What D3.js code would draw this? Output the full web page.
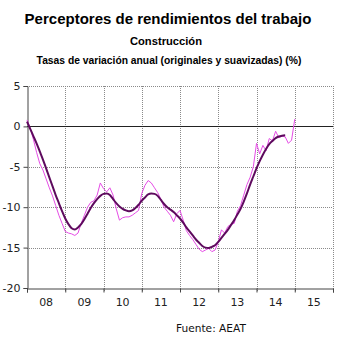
<!DOCTYPE html>
<html>
<head>
<meta charset="utf-8">
<script src="https://cdn.jsdelivr.net/npm/d3@7/dist/d3.min.js"></script>
<style>
  html, body { margin: 0; padding: 0; background: #fff; }
  svg { display: block; }
</style>
</head>
<body>
<svg id="chart" width="350" height="340"></svg>
<script>
// Monthly series starting January 2008 (index 0)
const yearLabels = ["08", "09", "10", "11", "12", "13", "14", "15"];
const yTicks = [5, 0, -5, -10, -15, -20];

// Original annual rates (%)
const originales = [
  0.8, -0.2, -1.6, -3.2, -4.6, -5.4, -6.5, -7.6, -8.6, -9.8, -11.0, -12.0,
  -13.0, -13.2, -13.3, -13.5, -13.2, -12.0, -11.0, -10.0, -9.4, -9.2, -8.5, -7.0,
  -7.7, -8.1, -7.6, -8.5, -10.2, -11.6, -11.3, -11.2, -11.2, -11.0, -10.7, -10.4,
  -8.3, -7.3, -6.7, -7.0, -7.6, -8.2, -9.0, -10.0, -10.5, -11.0, -11.8, -10.8,
  -10.4, -11.6, -12.9, -13.5, -14.0, -14.6, -15.2, -15.5, -15.3, -15.1, -15.5, -15.3,
  -14.3, -12.8, -13.2, -12.4, -12.1, -12.0, -10.5, -9.8, -8.5, -7.2, -6.3, -5.0,
  -2.1, -3.4, -2.35, -3.0, -1.5, -1.8, -0.6, -1.4, -1.2, -1.3, -2.1, -1.7,
  0.9
];

// Smoothed annual rates (%)
const suavizadas = [
  0.6, -0.3, -1.2, -2.1, -3.1, -4.1, -5.2, -6.3, -7.4, -8.5, -9.5, -10.5,
  -11.4, -12.1, -12.6, -12.75, -12.5, -12.1, -11.5, -10.8, -10.1, -9.5, -9.0, -8.6,
  -8.35, -8.3, -8.5, -9.0, -9.5, -9.9, -10.2, -10.4, -10.5, -10.4, -10.1, -9.7,
  -9.2, -8.8, -8.4, -8.3, -8.35, -8.6, -9.1, -9.6, -10.0, -10.3, -10.6, -11.0,
  -11.4, -11.9, -12.5, -13.0, -13.5, -14.0, -14.4, -14.8, -15.0, -15.05, -14.9, -14.7,
  -14.3, -13.8, -13.3, -12.8, -12.2, -11.6, -10.9, -10.2, -9.3, -8.3, -7.2, -6.2,
  -5.2, -4.3, -3.5, -2.8, -2.2, -1.8, -1.45, -1.25, -1.15, -1.1
];

const svg = d3.select("#chart");
const plotLeft = 27, plotRight = 333, plotTop = 86, plotBottom = 288;

const x = d3.scaleLinear().domain([0, yearLabels.length * 12]).range([plotLeft, plotRight]);
const y = d3.scaleLinear().domain([-20, 5]).range([plotBottom, plotTop]);

// Titles
svg.append("text").attr("x", 168).attr("y", 24).attr("text-anchor", "middle")
  .attr("font-family", "Liberation Sans, Arial, sans-serif").attr("font-weight", "bold")
  .attr("font-size", 15).attr("fill", "#000").text("Perceptores de rendimientos del trabajo");
svg.append("text").attr("x", 166).attr("y", 45).attr("text-anchor", "middle")
  .attr("font-family", "Liberation Sans, Arial, sans-serif").attr("font-weight", "bold")
  .attr("font-size", 11.2).attr("fill", "#000").text("Construcción");
svg.append("text").attr("x", 169).attr("y", 64).attr("text-anchor", "middle")
  .attr("font-family", "Liberation Sans, Arial, sans-serif").attr("font-weight", "bold")
  .attr("font-size", 10.3).attr("fill", "#000").text("Tasas de variación anual (originales y suavizadas) (%)");

// Grid
const grid = svg.append("g").attr("stroke", "#8a8a8a").attr("stroke-width", 1)
  .attr("stroke-dasharray", "1,1").attr("shape-rendering", "crispEdges");
yTicks.filter(v => v !== 0 && v !== -20).forEach(v => {
  grid.append("line").attr("x1", plotLeft).attr("x2", plotRight)
    .attr("y1", Math.round(y(v)) + 0.5).attr("y2", Math.round(y(v)) + 0.5);
});
d3.range(1, yearLabels.length + 1).forEach(k => {
  const xx = Math.round(x(k * 12)) + 0.5;
  grid.append("line").attr("x1", xx).attr("x2", xx).attr("y1", plotTop).attr("y2", plotBottom + 4);
});

// Zero line
svg.append("line").attr("x1", plotLeft).attr("x2", plotRight)
  .attr("y1", Math.round(y(0)) + 0.5).attr("y2", Math.round(y(0)) + 0.5)
  .attr("stroke", "#222").attr("stroke-width", 1).attr("shape-rendering", "crispEdges");

// Axes
const yAxis = d3.axisLeft(y).tickValues(yTicks).tickSize(4).tickPadding(3).tickFormat(d => String(d));
const gy = svg.append("g").attr("transform", `translate(${plotLeft + 0.5},0)`).call(yAxis);
gy.select(".domain").attr("stroke", "#444");
gy.selectAll(".tick line").attr("stroke", "#444");
gy.selectAll("text").attr("font-family", "DejaVu Sans, Verdana, sans-serif")
  .attr("font-size", 11).attr("fill", "#222");

const xAxis = d3.axisBottom(x).tickValues(d3.range(0, yearLabels.length + 1).map(k => k * 12))
  .tickSize(4).tickFormat("");
const gx = svg.append("g").attr("transform", `translate(0,${plotBottom + 0.5})`).call(xAxis);
gx.select(".domain").attr("stroke", "#444");
gx.selectAll(".tick line").attr("stroke", "#444");

svg.append("g").selectAll("text").data(yearLabels).join("text")
  .attr("x", (d, i) => x(i * 12 + 6)).attr("y", 306).attr("text-anchor", "middle")
  .attr("font-family", "DejaVu Sans, Verdana, sans-serif").attr("font-size", 11)
  .attr("fill", "#222").text(d => d);

// Series
const line = d3.line().x((d, i) => x(i)).y(d => y(d));
svg.append("path").datum(originales).attr("d", line).attr("fill", "none")
  .attr("stroke", "#e64ce6").attr("stroke-width", 1).attr("stroke-linejoin", "round");
svg.append("path").datum(suavizadas).attr("d", d3.line().x((d, i) => x(i)).y(d => y(d)).curve(d3.curveMonotoneX))
  .attr("fill", "none").attr("stroke", "#5e0a5e").attr("stroke-width", 2).attr("stroke-linejoin", "round");

// Source
svg.append("text").attr("x", 176).attr("y", 332)
  .attr("font-family", "DejaVu Sans, Verdana, sans-serif").attr("font-size", 10.6)
  .attr("fill", "#111").text("Fuente: AEAT");
</script>
</body>
</html>
